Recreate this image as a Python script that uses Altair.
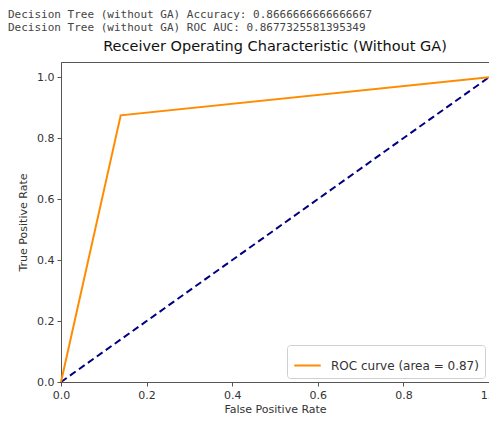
import altair as alt
import pandas as pd

fpr = [0.0, 0.1395, 1.0]
tpr = [0.0, 0.875, 1.0]
diag_x = [0.0, 1.0]
diag_y = [0.0, 1.0]
series_name = "ROC curve (area = 0.87)"
chart_title = "Receiver Operating Characteristic (Without GA)"
info_lines = [
    "Decision Tree (without GA) Accuracy: 0.8666666666666667",
    "Decision Tree (without GA) ROC AUC: 0.8677325581395349",
]
x_ticks = [0.0, 0.2, 0.4, 0.6, 0.8, 1.0]
y_ticks = [0.0, 0.2, 0.4, 0.6, 0.8, 1.0]

roc_df = pd.DataFrame({"fpr": fpr, "tpr": tpr, "series": [series_name] * len(fpr)})
diag_df = pd.DataFrame({"fpr": diag_x, "tpr": diag_y})
info_df = pd.DataFrame({"line": info_lines, "row": [0, 1]})
title_df = pd.DataFrame({"t": [chart_title]})

FONT = "DejaVu Sans"
W, H = 428, 320

x_enc = alt.X("fpr:Q", scale=alt.Scale(domain=[0, 1.0], nice=False, zero=False),
              axis=alt.Axis(title="False Positive Rate", values=x_ticks, format=".1f"))
y_enc = alt.Y("tpr:Q", scale=alt.Scale(domain=[0, 1.05], nice=False, zero=False),
              axis=alt.Axis(title="True Positive Rate", values=y_ticks, format=".1f"))

roc = alt.Chart(roc_df).mark_line(strokeWidth=2).encode(
    x=x_enc, y=y_enc,
    color=alt.Color("series:N",
                    scale=alt.Scale(domain=[series_name], range=["#ff8c00"]),
                    legend=alt.Legend(title=None, orient="bottom-right", symbolType="stroke",
                                      symbolStrokeWidth=2, symbolSize=700, labelOffset=9,
                                      labelFontSize=12, labelFont=FONT, labelColor="#333",
                                      fillColor="white", strokeColor="#d0d0d0",
                                      cornerRadius=3, padding=6, offset=4)),
)

diag = alt.Chart(diag_df).mark_line(strokeWidth=2, strokeDash=[7, 4], color="#000080").encode(
    x=x_enc, y=y_enc
)

info1 = alt.Chart(info_df).transform_filter(alt.datum.row == 0).mark_text(
    align="left", baseline="middle", font="DejaVu Sans Mono", fontSize=11, color="#444"
).encode(x=alt.value(-53), y=alt.value(-47), text="line:N")
info2 = alt.Chart(info_df).transform_filter(alt.datum.row == 1).mark_text(
    align="left", baseline="middle", font="DejaVu Sans Mono", fontSize=11, color="#444"
).encode(x=alt.value(-53), y=alt.value(-34), text="line:N")

title = alt.Chart(title_df).mark_text(
    align="center", baseline="alphabetic", font=FONT, fontSize=14.5, color="#111"
).encode(x=alt.value(W / 2), y=alt.value(-11), text="t:N")

chart = alt.layer(diag, roc, info1, info2, title).properties(
    width=W,
    height=H,
    autosize=alt.AutoSizeParams(type="none"),
    padding={"left": 53, "top": 54, "right": 0, "bottom": 33},
).configure_view(stroke="#555", strokeWidth=1).configure_axis(
    grid=False, tickSize=4, labelPadding=3, labelFontSize=11, titleFontSize=11,
    labelColor="#333", titleColor="#333", domainColor="#555", tickColor="#555",
    labelFont=FONT, titleFont=FONT, labelFlush=False, titleFontWeight="normal"
).configure_axisX(titlePadding=3).configure_axisY(titlePadding=8)

chart.save("out.html", embed_options={"renderer": "svg", "actions": False})
